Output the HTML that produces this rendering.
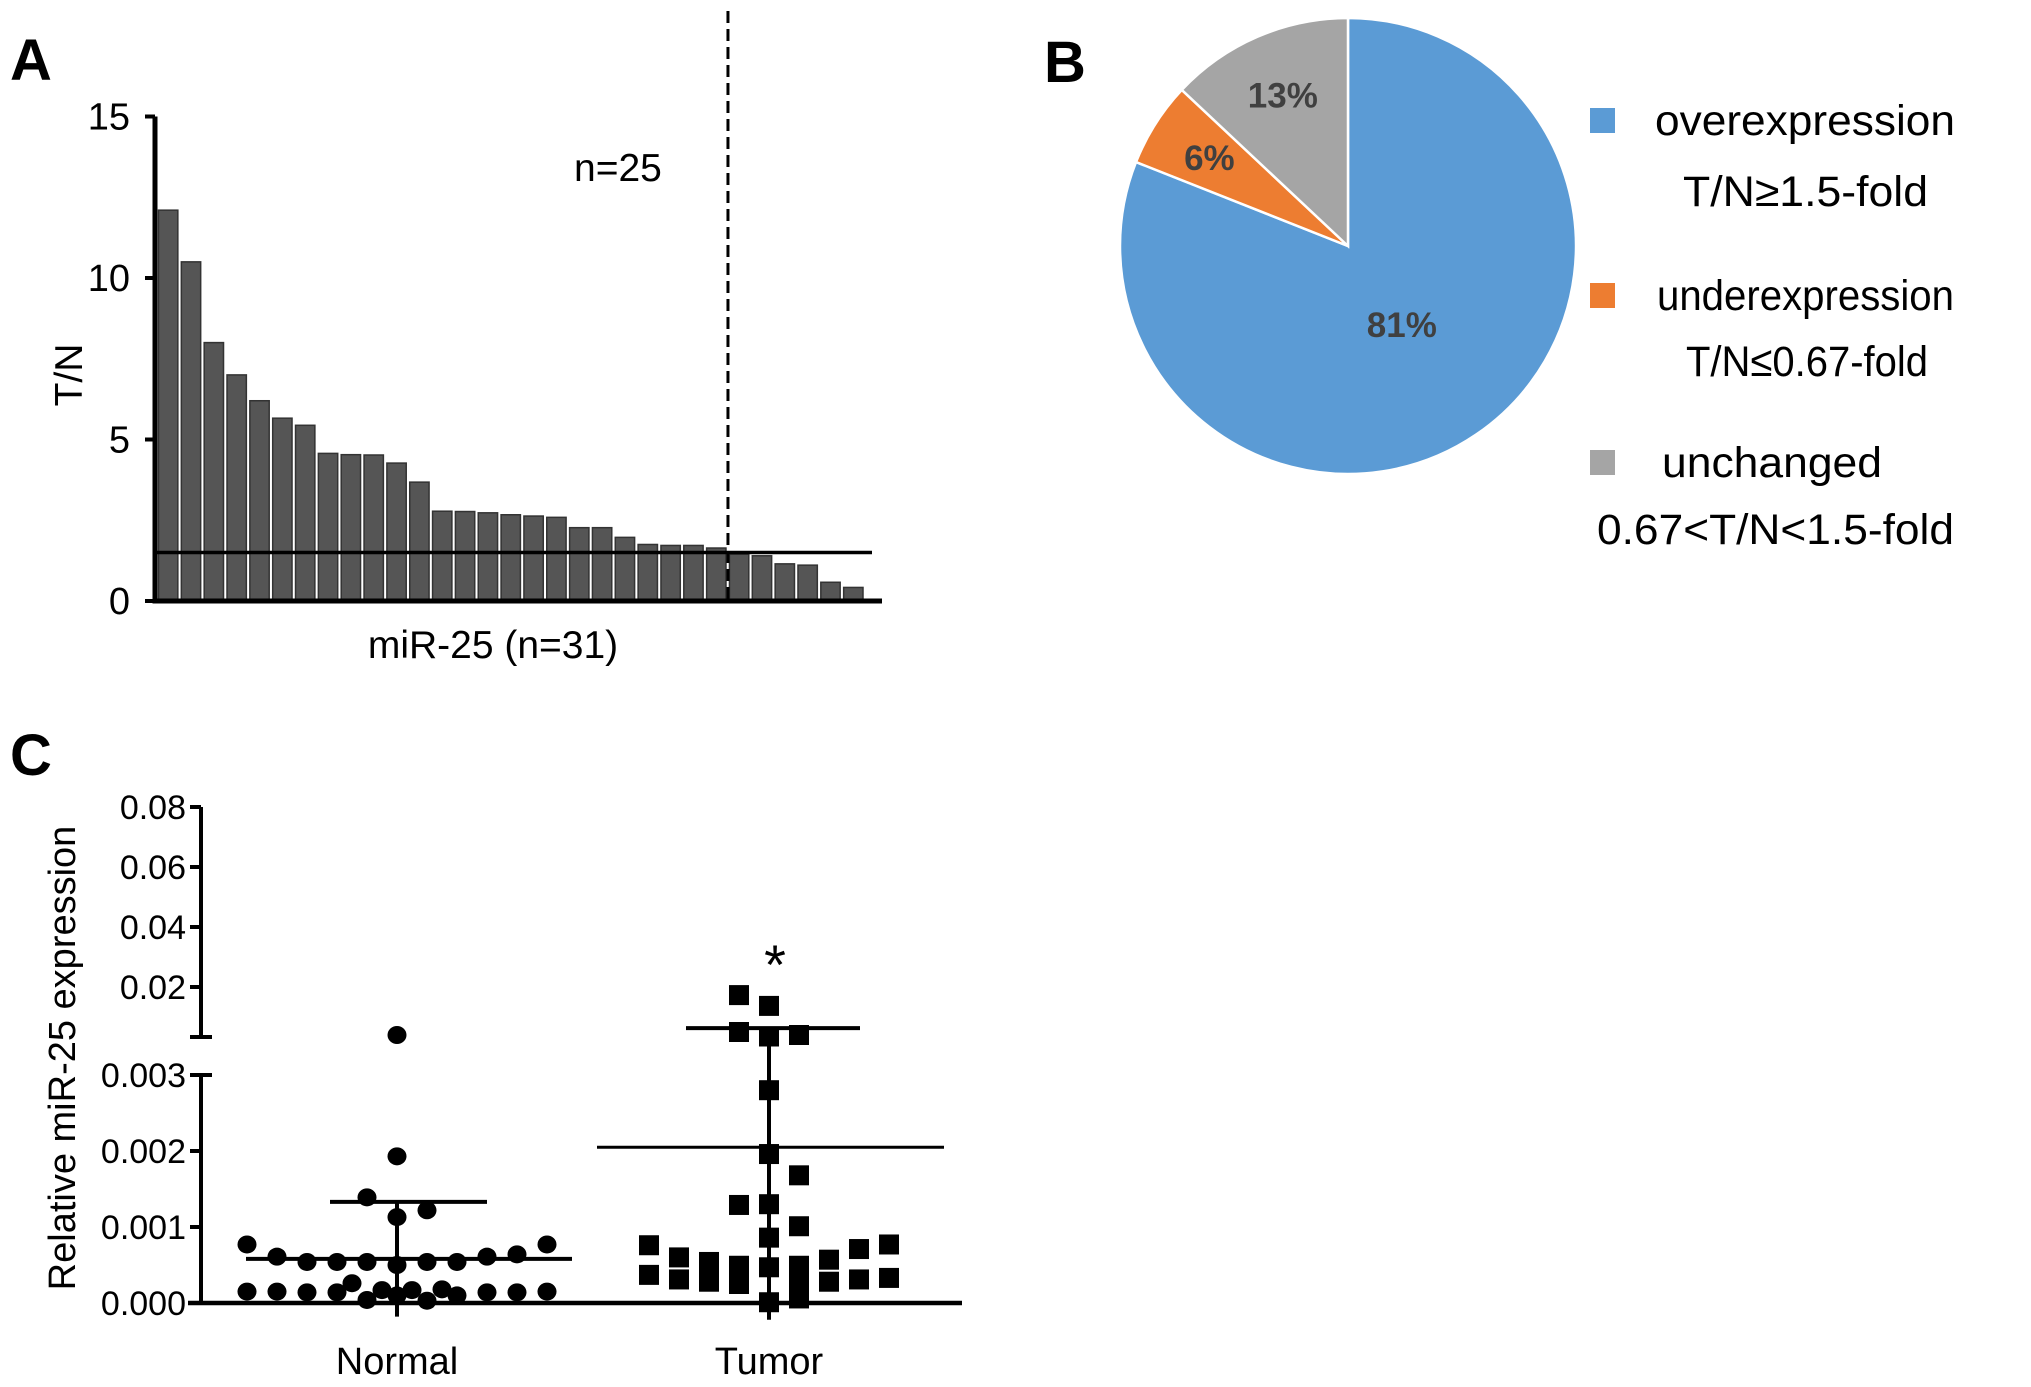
<!DOCTYPE html>
<html><head><meta charset="utf-8"><style>
html,body{margin:0;padding:0;background:#fff}
svg{display:block;font-family:"Liberation Sans",Arial,sans-serif}
</style></head><body>
<svg id="fig" width="2031" height="1387" viewBox="0 0 2031 1387" xmlns="http://www.w3.org/2000/svg">
<rect width="2031" height="1387" fill="#fff"/>
<text x="10" y="80" font-size="58" font-weight="bold">A</text>
<text x="1044" y="82" font-size="58" font-weight="bold">B</text>
<text x="10" y="775" font-size="58" font-weight="bold">C</text>
<g id="gA"></g>
<g id="gB"></g>
<g id="gC"></g>
</svg>
<script>
const NS="http://www.w3.org/2000/svg";
// Panel A data
const barValues=[12.1,10.5,8.0,7.0,6.2,5.66,5.44,4.57,4.53,4.52,4.27,3.68,2.78,2.77,2.73,2.67,2.63,2.59,2.27,2.27,1.97,1.75,1.72,1.72,1.64,1.45,1.4,1.15,1.11,0.58,0.42];
const aTicks=[0,5,10,15];
const threshold=1.5;
const nAbove=25;
// Panel B data
const pieLabels=["overexpression","underexpression","unchanged"];
const pieSub=["T/N≥1.5-fold","T/N≤0.67-fold","0.67<T/N<1.5-fold"];
const pieValues=[81,6,13];
const pieColors=["#5B9BD5","#ED7D31","#A5A5A5"];
// Panel C data
const groups=["Normal","Tumor"];
const cUpperTicks=[0.02,0.04,0.06,0.08];
const cLowerTicks=[0,0.001,0.002,0.003];
const normalVals=[0.004,0.00193,0.00139,0.00122,0.00113,0.00077,0.00061,0.00054,0.00054,0.00054,0.0005,0.00054,0.00054,0.00061,0.00064,0.00077,0.00015,0.00015,0.00014,0.00014,0.00026,0.00017,0.0001,0.00017,0.00018,0.0001,0.00014,0.00014,0.00015,0.00004,0.00003];
const normalCol=[0,0,-1,1,0,-5,-4,-3,-2,-1,0,1,2,3,4,5,-5,-4,-3,-2,-1.5,-0.5,0,0.5,1.5,2,3,4,5,-1,1];
const tumorVals=[0.0173,0.0137,0.005,0.0035,0.004,0.0028,0.00196,0.00168,0.00129,0.0013,0.00101,0.00086,0.00076,0.00077,0.00071,0.0006,0.00054,0.00049,0.00047,0.00049,0.00057,0.00037,0.00031,0.00028,0.00025,0.00025,0.00028,0.00031,0.00033,0.00001,0.00006,0.0004,0.00035];
const tumorCol=[-1,0,-1,0,1,0,0,1,-1,0,1,0,-4,4,3,-3,-2,-1,0,1,2,-4,-3,-2,-1,1,2,3,4,0,1,-2,-1];
const meanVals=[0.00058,0.00205];
const sdUpper=[0.00133,0.0063];
const sdLower=[-0.00018,-0.00022];

function el(tag,attrs,parent,txt){const e=document.createElementNS(NS,tag);for(const k in attrs)e.setAttribute(k,attrs[k]);if(txt!==undefined)e.textContent=txt;parent.appendChild(e);return e;}

// ---- Panel A
(function(){
const g=document.getElementById('gA');
const x0=157,x1=865,y0=601,pxPer=32.3;
const ya=v=>y0-v*pxPer;
const bw=(x1-x0)/barValues.length;
barValues.forEach((v,i)=>{
 const r=el('rect',{x:x0+i*bw+1.5,y:ya(v),width:bw-3.5,height:y0-ya(v),fill:'#555',stroke:'#333','stroke-width':1.5},g);
 
 
});
const ax=el('path',{d:`M155 ${ya(15)} V${y0} H882`,fill:'none',stroke:'#000','stroke-width':5},g);

aTicks.forEach(t=>{
 el('line',{x1:145,x2:155,y1:ya(t),y2:ya(t),stroke:'#000','stroke-width':4},g);
 const tl=el('text',{x:130,y:ya(t)+13,'font-size':38,'text-anchor':'end'},g,String(t));
 
});
const th=el('line',{x1:157,x2:872,y1:ya(threshold),y2:ya(threshold),stroke:'#000','stroke-width':3.5},g);

const dx=x0+nAbove*bw;
const dl=el('line',{x1:dx,x2:dx,y1:11,y2:y0,stroke:'#000','stroke-width':3,'stroke-dasharray':'12,6'},g);

const n=el('text',{x:574,y:181,'font-size':39},g,'n=25');

const yt=el('text',{x:0,y:0,'font-size':39,'text-anchor':'middle',transform:'translate(82,375) rotate(-90)'},g,'T/N');

const xt=el('text',{x:493,y:658,'font-size':39,'text-anchor':'middle'},g,'miR-25 (n=31)');

})();

// ---- Panel B
(function(){
const g=document.getElementById('gB');
const cx=1348,cy=246,r=228;
const total=pieValues.reduce((a,b)=>a+b,0);
let ang=0;
pieValues.forEach((v,i)=>{
 const a0=ang,a1=ang+v/total*2*Math.PI;ang=a1;
 const p=a=>[cx+r*Math.sin(a),cy-r*Math.cos(a)];
 const [sx,sy]=p(a0),[ex,ey]=p(a1);
 const s=el('path',{d:`M${cx} ${cy} L${sx} ${sy} A${r} ${r} 0 ${a1-a0>Math.PI?1:0} 1 ${ex} ${ey} Z`,fill:pieColors[i],stroke:'#fff','stroke-width':2.5},g);
 
 const am=(a0+a1)/2,rr=i===0?0.42:0.72;
 const t=el('text',{x:cx+rr*r*Math.sin(am),y:cy-rr*r*Math.cos(am)+12,'font-size':35,'font-weight':'bold',fill:'#404040','text-anchor':'middle'},g,v+'%');
 
});
const ly=[120,295,462],sy=[191,361,529],sx=[1683,1686,1597],lx=[1655,1657,1662];
const lw=[300,297,220],sw=[245,242,357];
pieLabels.forEach((l,i)=>{
 const sq=el('rect',{x:1590,y:ly[i]-12,width:25,height:25,fill:pieColors[i]},g);
 
 const t=el('text',{x:lx[i],y:ly[i]+15,'font-size':43,textLength:lw[i],lengthAdjust:'spacingAndGlyphs'},g,l);
 
 const t2=el('text',{x:sx[i],y:sy[i]+15,'font-size':43,textLength:sw[i],lengthAdjust:'spacingAndGlyphs'},g,pieSub[i]);
 
});
})();

// ---- Panel C
(function(){
const g=document.getElementById('gC');
const yC=v=>v>=0.0033?987-(v-0.02)*3000:1303-v*76000;
const xCat=[397,769],colW=30;
const ax=el('g',{},g);
el('line',{x1:201,x2:201,y1:yC(0.08),y2:1037,stroke:'#000','stroke-width':4},ax);
el('line',{x1:190,x2:212,y1:1037,y2:1037,stroke:'#000','stroke-width':4},ax);
el('line',{x1:201,x2:201,y1:yC(0.003),y2:1303,stroke:'#000','stroke-width':4},ax);
el('line',{x1:190,x2:212,y1:yC(0.003),y2:yC(0.003),stroke:'#000','stroke-width':4},ax);
const xa=el('line',{x1:188,x2:962,y1:1303,y2:1303,stroke:'#000','stroke-width':4.5},g);

cUpperTicks.concat(cLowerTicks).forEach(t=>{
 const y=yC(t);
 el('line',{x1:190,x2:201,y1:y,y2:y,stroke:'#000','stroke-width':4},g);
 const lab=t>=0.01?t.toFixed(2):t.toFixed(3);
 const tl=el('text',{x:186,y:y+12,'font-size':34,'text-anchor':'end'},g,lab);
 
});
const yt=el('text',{x:0,y:0,'font-size':38,'text-anchor':'middle',transform:'translate(75,1058) rotate(-90)'},g,'Relative miR-25 expression');

groups.forEach((n,i)=>{
 const t=el('text',{x:xCat[i],y:1374,'font-size':38,'text-anchor':'middle'},g,n);
 
});
normalVals.forEach((v,i)=>{
 const c=el('ellipse',{cx:xCat[0]+normalCol[i]*colW,cy:yC(v),rx:9.5,ry:9,fill:'#000'},g);
 
});
tumorVals.forEach((v,i)=>{
 const c=el('rect',{x:xCat[1]+tumorCol[i]*colW-10,y:yC(v)-10,width:20,height:20,fill:'#000'},g);
 
});
const meanW=[[246,572],[597,944]],sdW=[[330,487],[686,860]];
groups.forEach((n,i)=>{
 const m=el('line',{x1:meanW[i][0],x2:meanW[i][1],y1:yC(meanVals[i]),y2:yC(meanVals[i]),stroke:'#000','stroke-width':i?3:4},g);
 
 const s=el('line',{x1:sdW[i][0],x2:sdW[i][1],y1:yC(sdUpper[i]),y2:yC(sdUpper[i]),stroke:'#000','stroke-width':4},g);
 
 const lowY=1303-sdLower[i]*76000;
 const e=el('line',{x1:xCat[i],x2:xCat[i],y1:yC(sdUpper[i]),y2:lowY,stroke:'#000','stroke-width':4},g);
 
});
const st=el('text',{x:775,y:984,'font-size':56,'text-anchor':'middle'},g,'*');

})();
</script>
</body></html>
